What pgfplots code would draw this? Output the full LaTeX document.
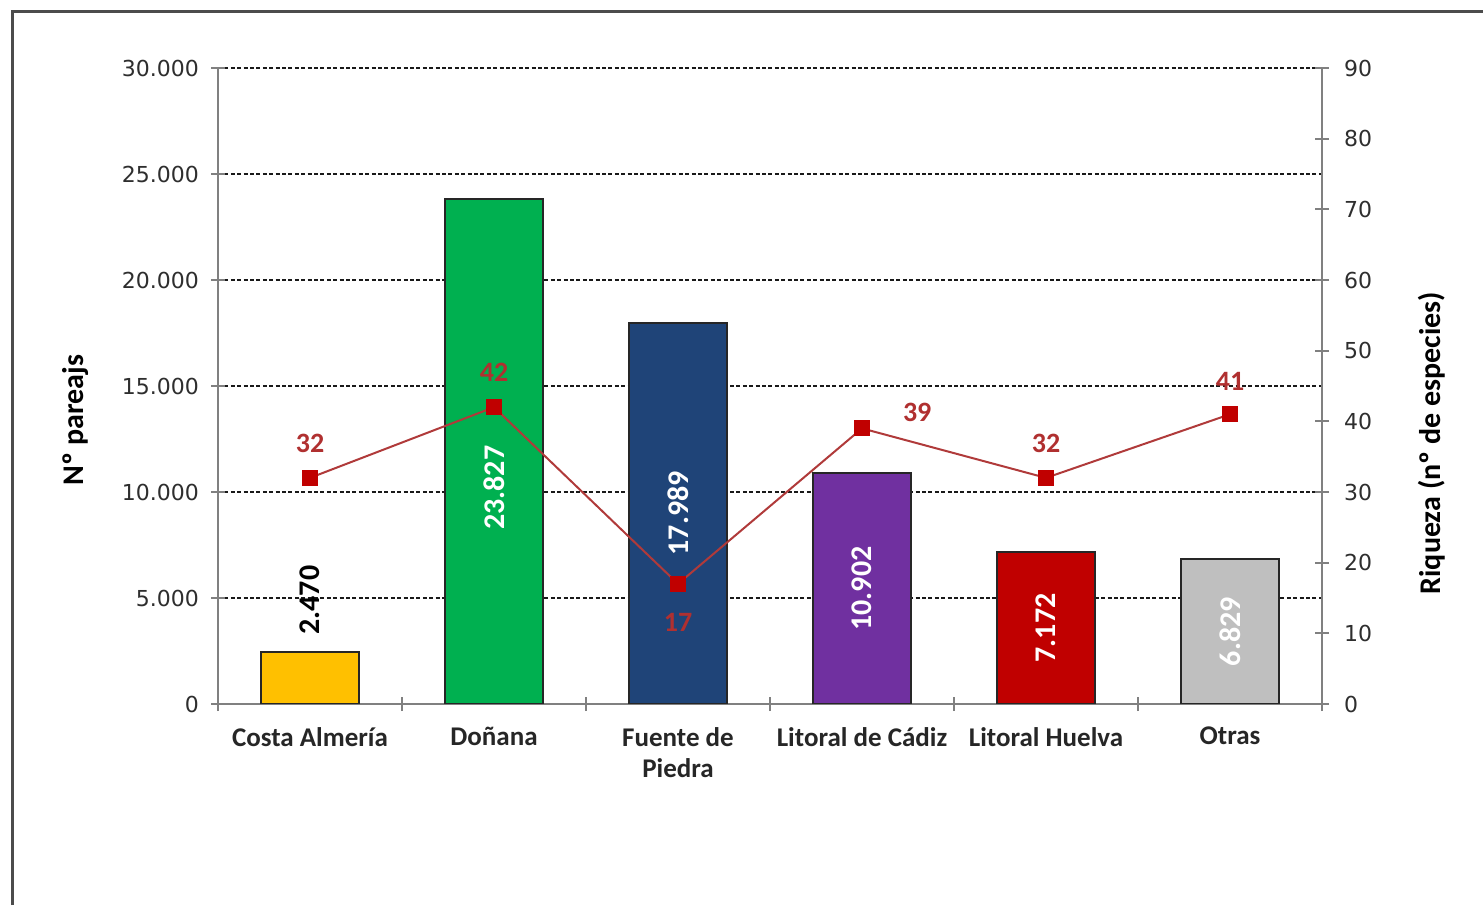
\documentclass[border=0pt]{standalone}
\usepackage{pgfplots}
\pgfplotsset{compat=1.18}
\usepackage{fontspec}
\setmainfont{Carlito}
\newfontfamily\tickfont{DejaVu Sans}
\definecolor{cYellow}{HTML}{FFC000}
\definecolor{cGreen}{HTML}{00B050}
\definecolor{cBlue}{HTML}{1F4478}
\definecolor{cPurple}{HTML}{7030A0}
\definecolor{cRed}{HTML}{C00000}
\definecolor{cGray}{HTML}{BFBFBF}
\definecolor{cLine}{HTML}{B03A3A}
\definecolor{cMark}{HTML}{C00000}
\definecolor{cLab}{HTML}{B03030}
\definecolor{cTick}{HTML}{2E2E2E}
\begin{document}
\begin{tikzpicture}[x=1pt,y=1pt]
\useasboundingbox (0,0) rectangle (741.5,452.5);
\draw[line width=1.5pt, color=black!70] (6,0) -- (6,446.5) -- (741.5,446.5);
\begin{axis}[
  at={(109pt,100.5pt)}, anchor=south west,
  scale only axis, width=552pt, height=318pt,
  xmin=-0.5, xmax=5.5, ymin=0, ymax=30000,
  axis x line=bottom, axis y line=left,
  axis line style={-, draw=gray, line width=1pt},
  tick align=center, major tick length=7pt,
  tick style={draw=gray, line width=1pt},
  ytick={0,5000,...,30000},
  scaled y ticks=false,
  ymajorgrids,
  major grid style={draw=black!90, line width=0.9pt, dash pattern=on 2pt off 1.2pt},
  yticklabel style={font=\tickfont\fontsize{11}{13}\selectfont, text=cTick, xshift=-2.5pt,
    /pgf/number format/fixed, /pgf/number format/1000 sep={.}, /pgf/number format/assume math mode=true},
  xtick={-0.5,0.5,...,5.5}, xticklabels={},
  extra x ticks={0,1,2,3,4,5},
  extra x tick labels={Costa Almería, Doñana, {Fuente de\\Piedra}, Litoral de Cádiz, Litoral Huelva, Otras},
  extra x tick style={major tick length=0pt, xmajorgrids=false,
    tick label style={align=center, font=\bfseries\fontsize{13.5}{15.5}\selectfont, text=black!85, yshift=-8pt}},
  ylabel={Nº pareajs},
  ylabel style={at={(axis description cs:-0.1295,0.4465)}, anchor=center, font=\bfseries\fontsize{15}{18}\selectfont},
]
\addplot[ybar, bar width=49pt, bar shift=0pt, fill=cYellow, draw=black!85, line width=1pt] coordinates {(0,2470)};
\addplot[ybar, bar width=49pt, bar shift=0pt, fill=cGreen, draw=black!85, line width=1pt] coordinates {(1,23827)};
\addplot[ybar, bar width=49pt, bar shift=0pt, fill=cBlue, draw=black!85, line width=1pt] coordinates {(2,17989)};
\addplot[ybar, bar width=49pt, bar shift=0pt, fill=cPurple, draw=black!85, line width=1pt] coordinates {(3,10902)};
\addplot[ybar, bar width=49pt, bar shift=0pt, fill=cRed, draw=black!85, line width=1pt] coordinates {(4,7172)};
\addplot[ybar, bar width=49pt, bar shift=0pt, fill=cGray, draw=black!85, line width=1pt] coordinates {(5,6829)};
\begin{scope}[every node/.style={rotate=90, font=\bfseries\fontsize{15}{18}\selectfont}]
\node[text=black] at (axis cs:0,4900) {2.470};
\node[text=white] at (axis cs:1,10200) {23.827};
\node[text=white] at (axis cs:2,8995) {17.989};
\node[text=white] at (axis cs:3,5451) {10.902};
\node[text=white] at (axis cs:4,3586) {7.172};
\node[text=white] at (axis cs:5,3415) {6.829};
\end{scope}
\end{axis}
\begin{axis}[
  at={(109pt,100.5pt)}, anchor=south west,
  scale only axis, width=552pt, height=318pt,
  xmin=-0.5, xmax=5.5, ymin=0, ymax=90,
  axis y line*=right, axis x line=none,
  axis line style={-, draw=gray, line width=1pt},
  tick align=center, major tick length=7pt,
  tick style={draw=gray, line width=1pt},
  ytick={0,10,...,90},
  yticklabel style={font=\tickfont\fontsize{11}{13}\selectfont, text=cTick,
    /pgf/number format/assume math mode=true, xshift=4pt},
  ylabel={Riqueza (nº de especies)},
  ylabel style={at={(axis description cs:1.0996,0.41)}, anchor=center, font=\bfseries\fontsize{15}{18}\selectfont},
]
\addplot[color=cLine, line width=1pt, mark=square*, mark size=3.5pt, mark options={fill=cMark, draw=cMark}] coordinates {(0,32)(1,42)(2,17)(3,39)(4,32)(5,41)};
\begin{scope}[every node/.style={text=cLab, font=\bfseries\fontsize{14}{16}\selectfont}]
\node at (axis cs:0,36.9) {32};
\node at (axis cs:1,47.0) {42};
\node at (axis cs:2,11.6) {17};
\node at (axis cs:3.30,41.2) {39};
\node at (axis cs:4,36.9) {32};
\node at (axis cs:5,45.6) {41};
\end{scope}
\end{axis}
\end{tikzpicture}
\end{document}
